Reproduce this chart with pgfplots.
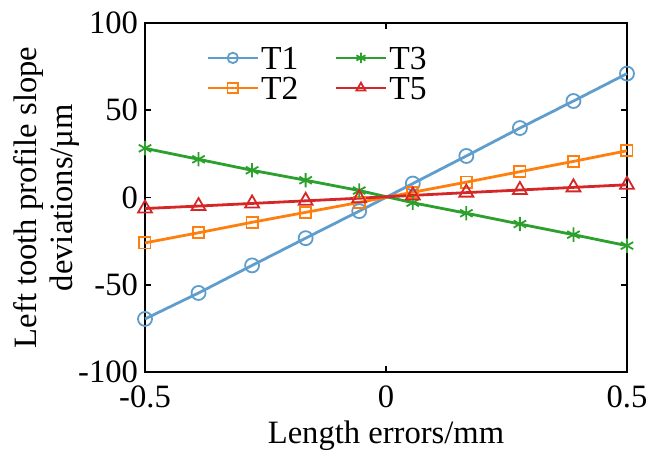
\documentclass[border=0pt]{standalone}
\usepackage{fontspec}
\setmainfont{Liberation Serif}
\usepackage{pgfplots}
\pgfplotsset{compat=1.18}

\definecolor{cT1}{RGB}{95,158,204}
\definecolor{cT2}{RGB}{255,127,14}
\definecolor{cT3}{RGB}{44,160,44}
\definecolor{cT5}{RGB}{214,39,40}

\begin{document}
\begin{tikzpicture}
\useasboundingbox (-72.5pt,-40pt) rectangle (257pt,186pt);
\begin{axis}[
    scale only axis,
    width=241pt, height=174.5pt,
    xmin=-0.5, xmax=0.5,
    ymin=-100, ymax=100,
    xtick={-0.5,0,0.5},
    ytick={-100,-50,0,50,100},
    xticklabels={-0.5,0,0.5},
    yticklabels={-100,-50,0,50,100},
    tick align=inside,
    major tick length=3pt,
    axis line style={line width=1pt},
    every tick/.style={line width=0.8pt, black},
    font=\fontsize{16.3}{18}\selectfont,
    tick label style={font=\fontsize{16.3}{18}\selectfont},
    xticklabel style={yshift=-3.5pt},
    xlabel={Length errors/mm},
    ylabel={Left tooth profile slope\\deviations/µm},
    ylabel style={align=center, yshift=-7.5pt},
    xlabel style={yshift=0.5pt},
    clip=false,
    legend columns=2,
    transpose legend,
    legend style={at={(0,1)}, anchor=north west, xshift=30.5pt, yshift=-10.5pt,
        draw=none, fill=none, inner sep=0pt,
        font=\fontsize{16.8}{18}\selectfont, row sep=1.5pt,
        nodes={inner sep=1pt, text height=11.5pt, text depth=0pt},
        /tikz/every odd column/.append style={column sep=0pt},
        /tikz/every even column/.append style={column sep=17pt}},
    legend cell align=left,
    legend image code/.code={
        \draw[mark repeat=2, mark phase=2, #1, mark size=2.6pt]
            plot coordinates {(0pt,0pt) (12.5pt,0pt) (25pt,0pt)};},
    every axis plot/.append style={line width=1.4pt},
]
\addplot[color=cT1, mark=o, mark size=3.5pt, mark options={line width=0.9pt}] coordinates {
    (-0.5,-69.6) (-0.3889,-54.7) (-0.2778,-38.9) (-0.1667,-23.3) (-0.0556,-7.8)
    (0.0556,8.0) (0.1667,23.8) (0.2778,39.8) (0.3889,55.3) (0.5,71.0)
};
\addlegendentry{T1}
\addplot[color=cT2, mark=square, mark size=2.8pt, mark options={line width=0.9pt}] coordinates {
    (-0.5,-26.0) (-0.3889,-20.2) (-0.2778,-14.2) (-0.1667,-8.5) (-0.0556,-2.8)
    (0.0556,3.0) (0.1667,8.8) (0.2778,14.8) (0.3889,20.7) (0.5,26.8)
};
\addlegendentry{T2}
\addplot[color=cT3, mark=asterisk, mark size=3.6pt, mark options={line width=0.9pt}] coordinates {
    (-0.5,28.2) (-0.3889,21.9) (-0.2778,15.6) (-0.1667,9.9) (-0.0556,4.0)
    (0.0556,-3.0) (0.1667,-9.0) (0.2778,-15.2) (0.3889,-21.3) (0.5,-27.6)
};
\addlegendentry{T3}
\addplot[color=cT5, mark=triangle, mark size=4pt, mark options={line width=0.9pt}] coordinates {
    (-0.5,-6.3) (-0.3889,-4.9) (-0.2778,-3.4) (-0.1667,-1.9) (-0.0556,-0.4)
    (0.0556,1.2) (0.1667,2.8) (0.2778,4.3) (0.3889,5.8) (0.5,7.3)
};
\addlegendentry{T5}
\end{axis}
\end{tikzpicture}
\end{document}
